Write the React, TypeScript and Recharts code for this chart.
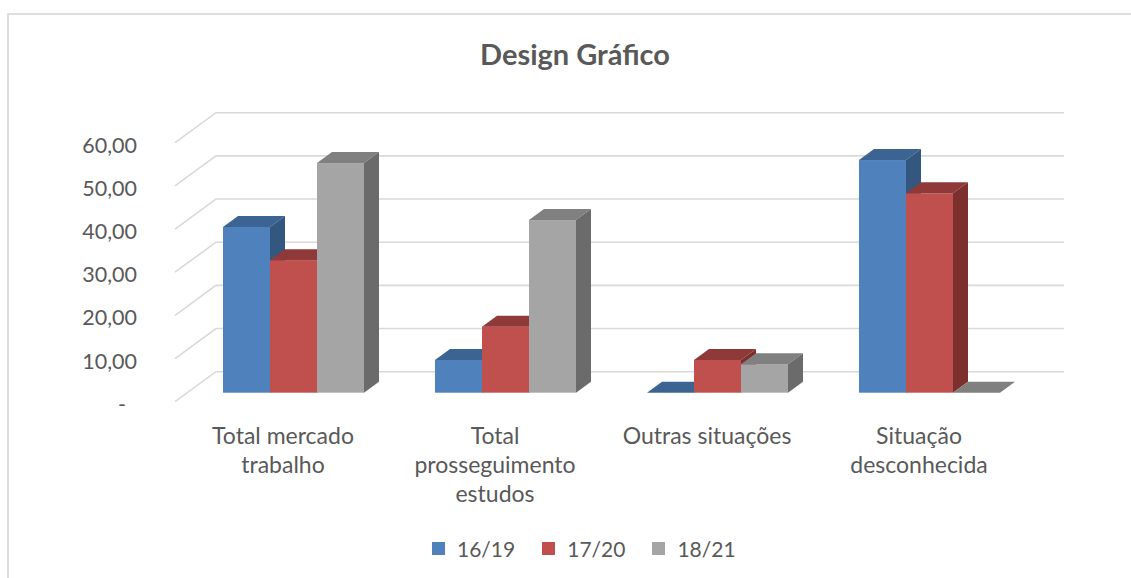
import React from 'react';
import { BarChart, Bar, XAxis, YAxis, CartesianGrid } from 'recharts';

const categories = [
  'Total mercado trabalho',
  'Total prosseguimento estudos',
  'Outras situações',
  'Situação desconhecida',
];
const series1619 = [38.4, 7.6, 0, 53.9];
const series1720 = [30.7, 15.3, 7.6, 46.2];
const series1821 = [53.2, 40.0, 6.6, 0];
const yTicks = [0, 10, 20, 30, 40, 50, 60];

const seriesInfo = [
  { key: 's1619', name: '16/19', front: '#4F81BD', top: '#3C6493', side: '#34577F' },
  { key: 's1720', name: '17/20', front: '#C0504D', top: '#8F3A38', side: '#7D2F2D' },
  { key: 's1821', name: '18/21', front: '#A5A5A5', top: '#808080', side: '#6B6B6B' },
];

const data = categories.map((c, i) => ({
  name: c,
  s1619: series1619[i],
  s1720: series1720[i],
  s1821: series1821[i],
}));

// layout of the "bar plane" (middle depth of the 3D box)
const W = 1131;
const H = 578;
const PLOT_LEFT = 187;
const PLOT_RIGHT = 1035;
const PLOT_TOP = 133.7;
const PLOT_BOTTOM = 392.7;
const X_AXIS_H = 60;

// offsets to the front edge and to the back wall
const FRONT_DX = -12;
const FRONT_DY = 9;
const BACK_DX = 29;
const BACK_DY = -21;
// depth of one bar
const BAR_DX = 15;
const BAR_DY = -11;

const FONT = 'Lato, "Open Sans", sans-serif';
const TEXT = '#595959';

const wrap = (s: string, max = 16) => {
  const out: string[] = [];
  let line = '';
  s.split(' ').forEach((w) => {
    if (!line) line = w;
    else if ((line + ' ' + w).length <= max) line += ' ' + w;
    else {
      out.push(line);
      line = w;
    }
  });
  if (line) out.push(line);
  return out;
};

const makeShape = (front: string, top: string, side: string) => (props: any) => {
  const { x, y, width, height } = props;
  if (x == null || y == null) return <g />;
  const h = Math.max(0, height || 0);
  const yt = y + (height < 0 ? height : 0);
  const w = width;
  return (
    <g>
      <rect x={x} y={yt} width={w} height={h} fill={front} />
      <polygon
        points={`${x},${yt} ${x + BAR_DX},${yt + BAR_DY} ${x + w + BAR_DX},${yt + BAR_DY} ${x + w},${yt}`}
        fill={top}
      />
      <polygon
        points={`${x + w},${yt} ${x + w + BAR_DX},${yt + BAR_DY} ${x + w + BAR_DX},${yt + h + BAR_DY} ${x + w},${yt + h}`}
        fill={side}
      />
    </g>
  );
};

const gridLine = (props: any) => {
  const { x1, y1, x2, index } = props;
  return (
    <polyline
      key={`g-${index}-${y1}`}
      points={`${x1 + FRONT_DX},${y1 + FRONT_DY} ${x1 + BACK_DX},${y1 + BACK_DY} ${x2 + BACK_DX},${y1 + BACK_DY}`}
      fill="none"
      stroke="#D9D9D9"
      strokeWidth={1.6}
    />
  );
};

const YTick = (props: any) => {
  const { y, payload } = props;
  const v = payload.value as number;
  const label = v === 0 ? '-' : v.toFixed(2).replace('.', ',');
  return (
    <text
      x={PLOT_LEFT - 50 - (v === 0 ? 11 : 0)}
      y={y + FRONT_DY + 2}
      textAnchor="end"
      dominantBaseline="central"
      fontFamily={FONT}
      fontSize={21.5}
      fill={TEXT}
    >
      {label}
    </text>
  );
};

const XTick = (props: any) => {
  const { x, payload } = props;
  const lines = wrap(payload.value);
  return (
    <text
      x={x - 10}
      y={PLOT_BOTTOM + 42}
      textAnchor="middle"
      dominantBaseline="central"
      fontFamily={FONT}
      fontSize={23}
      fill={TEXT}
    >
      {lines.map((l, i) => (
        <tspan key={i} x={x - 10} dy={i === 0 ? 0 : 29}>
          {l}
        </tspan>
      ))}
    </text>
  );
};

export default function App() {
  return (
    <div
      style={{
        position: 'absolute',
        left: 0,
        top: 0,
        width: W,
        height: H,
        overflow: 'hidden',
        background: '#fff',
      }}
    >
      <div
        style={{
          position: 'absolute',
          left: 7,
          top: 13,
          width: 1300,
          height: 700,
          border: '2px solid #DEDEDE',
        }}
      />
      <div
        style={{
          position: 'absolute',
          left: 0,
          width: 1150,
          top: 36,
          textAlign: 'center',
          fontFamily: FONT,
          fontWeight: 700,
          fontSize: 29,
          color: TEXT,
        }}
      >
        Design Gráfico
      </div>
      <div style={{ position: 'absolute', left: 0, top: 0 }}>
        <BarChart
          width={W}
          height={H}
          data={data}
          barSize={47}
          barGap={0}
          margin={{
            top: PLOT_TOP,
            right: W - PLOT_RIGHT,
            left: 0,
            bottom: H - PLOT_BOTTOM - X_AXIS_H,
          }}
        >
          <CartesianGrid vertical={false} horizontal={gridLine} />
          <XAxis
            dataKey="name"
            height={X_AXIS_H}
            axisLine={false}
            tickLine={false}
            interval={0}
            tick={<XTick />}
          />
          <YAxis
            width={PLOT_LEFT}
            domain={[0, 60]}
            ticks={yTicks}
            axisLine={false}
            tickLine={false}
            tick={<YTick />}
          />
          {seriesInfo.map((s) => (
            <Bar
              key={s.key}
              dataKey={s.key}
              name={s.name}
              fill={s.front}
              isAnimationActive={false}
              shape={makeShape(s.front, s.top, s.side)}
            />
          ))}
        </BarChart>
      </div>
      <div
        style={{
          position: 'absolute',
          top: 536,
          left: 432,
          display: 'flex',
          alignItems: 'center',
          fontFamily: FONT,
          fontSize: 21,
          color: TEXT,
        }}
      >
        {seriesInfo.map((s, i) => (
          <div
            key={s.key}
            style={{ display: 'flex', alignItems: 'center', marginRight: i < 2 ? 27 : 0 }}
          >
            <span
              style={{
                display: 'inline-block',
                width: 13,
                height: 13,
                background: s.front,
                marginRight: 12,
              }}
            />
            <span>{s.name}</span>
          </div>
        ))}
      </div>
    </div>
  );
}
